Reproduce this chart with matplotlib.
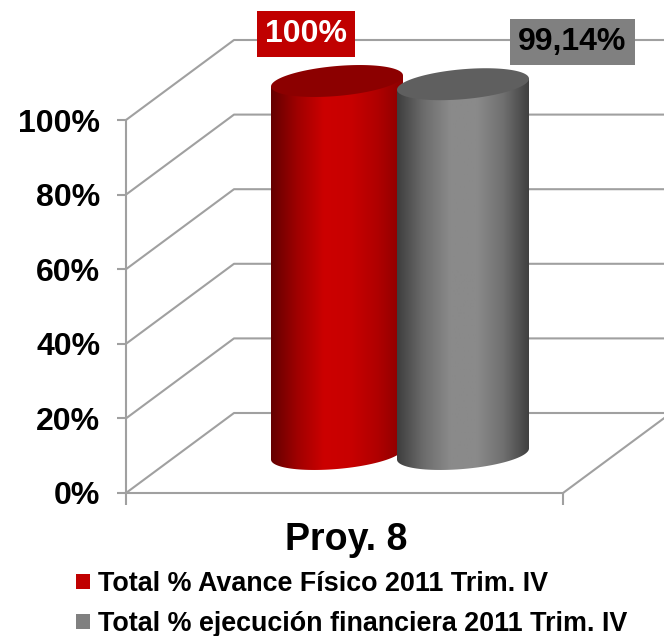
import matplotlib
matplotlib.use("Agg")
import matplotlib.pyplot as plt
import numpy as np
from matplotlib.colors import LinearSegmentedColormap
from matplotlib.patches import Patch, PathPatch, Polygon
from matplotlib.path import Path

# datos del grafico
categoria = "Proy. 8"
series = ["Total % Avance Físico 2011 Trim. IV", "Total % ejecución financiera 2011 Trim. IV"]
valores = [100, 99.14]
etiquetas = ["100%", "99,14%"]
ticks_y = [0, 20, 40, 60, 80, 100]
ticks_labels = ["0%", "20%", "40%", "60%", "80%", "100%"]

GRID = "#a0a0a0"
COLORES = ["#c00000", "#808080"]
TAPAS = ["#8c0000", "#5f5f5f"]
DEGRADADOS = [
    ["#640000", "#a00000", "#cc0000", "#c80000", "#b00000", "#8a0000"],
    ["#3e3e3e", "#6c6c6c", "#8a8a8a", "#8a8a8a", "#707070", "#3e3e3e"],
]

plt.rcParams["font.family"] = ["Liberation Sans", "DejaVu Sans"]
plt.rcParams["font.weight"] = "bold"

W, H = 664, 636
X0, X1 = 126, 563
Y0, Y100 = 493, 120
fig = plt.figure(figsize=(W / 100, H / 100), dpi=100)
ax = fig.add_axes([X0 / W, 1 - Y0 / H, (X1 - X0) / W, (Y0 - Y100) / H])


# pixeles de la imagen a coordenadas del eje
def px_x(px):
    return (px - X0) / (X1 - X0)


def px_h(px):
    return px / ((Y0 - Y100) / 100)


# profundidad de la caja 3D
DX = px_x(X0 + 108)
DY = px_h(80)

for v in ticks_y:
    ax.plot([0, DX, 1 + DX], [v, v + DY, v + DY], color=GRID, lw=1.5, clip_on=False, zorder=1)
ax.plot([1, 1 + DX], [0, DY], color=GRID, lw=1.5, clip_on=False, zorder=1)

# cilindros
BASE = px_h(493 - 454)
CENTROS = [px_x(337), px_x(463)]
SEMI_X = px_x(X0 + 66)
INCL = px_h(5.5)
SEMI_Y = px_h(15)
t = np.linspace(0, 2 * np.pi, 121)

for i, v in enumerate(valores):
    cx = CENTROS[i]
    top = BASE + v
    # cuerpo: borde superior recto entre extremos y arco inferior de la elipse
    t_inf = np.linspace(np.pi, 2 * np.pi, 60)
    xs = cx + SEMI_X * np.cos(t_inf)
    ys = BASE + INCL * np.cos(t_inf) + SEMI_Y * np.sin(t_inf)
    verts = list(zip(xs, ys)) + [(cx + SEMI_X, top + INCL), (cx - SEMI_X, top - INCL), (xs[0], ys[0])]
    cuerpo = PathPatch(Path(verts), fc="none", ec="none", transform=ax.transData)
    ax.add_patch(cuerpo)
    cmap = LinearSegmentedColormap.from_list("c%d" % i, DEGRADADOS[i])
    im = ax.imshow(
        np.linspace(0, 1, 256).reshape(1, -1),
        extent=[cx - SEMI_X, cx + SEMI_X, BASE - SEMI_Y * 1.2, top + SEMI_Y],
        aspect="auto",
        cmap=cmap,
        zorder=2 + i,
        interpolation="bilinear",
    )
    # sin esto la imagen se corta en el limite del eje (100%)
    im.set_clip_box(fig.bbox)
    im.set_clip_path(cuerpo)
    tapa = Polygon(
        np.column_stack([cx + SEMI_X * np.cos(t), top + INCL * np.cos(t) + SEMI_Y * np.sin(t)]),
        closed=True,
        fc=TAPAS[i],
        ec="none",
        clip_on=False,
        zorder=2 + i,
    )
    ax.add_patch(tapa)

# etiquetas de datos
ax.text(px_x(306), px_h(Y0 - 34), etiquetas[0], color="white", fontsize=23, ha="center", va="center", zorder=6,
        bbox=dict(boxstyle="square,pad=0.24", fc=COLORES[0], ec="none"))
ax.text(px_x(572.5), px_h(Y0 - 42), etiquetas[1], color="black", fontsize=23, ha="center", va="center", zorder=6,
        bbox=dict(boxstyle="square,pad=0.26", fc=COLORES[1], ec="none"))

ax.set_xlim(0, 1)
ax.set_ylim(0, 100)
ax.set_xticks([0, 1])
ax.set_xticklabels([])
ax.set_yticks(ticks_y)
ax.set_yticklabels(ticks_labels)
ax.tick_params(axis="y", length=6.5, width=1.5, color=GRID, labelsize=23, pad=12)
ax.tick_params(axis="x", length=8.5, width=1.5, color=GRID)
ax.spines["top"].set_visible(False)
ax.spines["right"].set_visible(False)
ax.spines["left"].set_color(GRID)
ax.spines["bottom"].set_color(GRID)
ax.spines["left"].set_linewidth(1.5)
ax.spines["bottom"].set_linewidth(1.5)
ax.patch.set_visible(False)
ax.set_xlabel(categoria, fontsize=27, fontweight="bold", labelpad=9, x=0.505)

handles = [Patch(fc=c, ec="none") for c in COLORES]
fig.legend(
    handles,
    series,
    loc="upper left",
    bbox_to_anchor=(76 / W, 1 - 571 / H),
    frameon=False,
    handlelength=0.52,
    handleheight=0.52,
    handletextpad=0.28,
    labelspacing=0.52,
    borderpad=0,
    borderaxespad=0,
    prop={"size": 19.4, "weight": "bold"},
)

fig.savefig("out.png", dpi=100)
plt.close(fig)
